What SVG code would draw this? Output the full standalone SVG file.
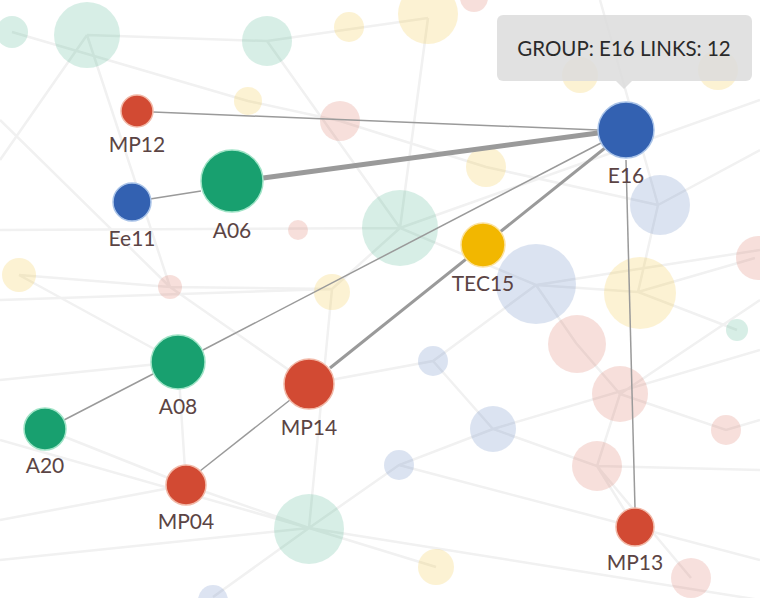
<svg xmlns="http://www.w3.org/2000/svg" width="760" height="598" viewBox="0 0 760 598">
<style>
.bgl{stroke:#f1f1f1;stroke-width:2.5;fill:none}
.bgn{opacity:0.17}
.g{fill:#18a06f}.b{fill:#3361b1}.r{fill:#d24a33}.y{fill:#f2b700}
.lk{stroke:#9a9a9a;fill:none}
.lbl{font-family:Lato,"Noto Sans",sans-serif;font-size:21px;fill:#5b4444;text-anchor:middle}
.nd{stroke-width:1.5}
</style>
<rect width="760" height="598" fill="#ffffff"/>
<g id="background-links">
<path class="bgl" d="M87 35L267 41L428 18M87 35L0 160M87 35L170 287M267 41L400 228M428 18L400 228L536 285L638 292L755 258M400 228L332 289L170 287L19 275M536 285L576 343L620 394L597 466L635 527M433 361L493 429L597 466L691 578M309 528L436 567M309 528L399 465L493 429M309 528L213 597M186 485L309 528L0 560M45 429L186 485M178 362L186 485M658 205L760 150M658 205L638 292L737 330M620 394L726 430L760 420M340 121L486 167L658 205M248 101L340 121M0 380L178 362M309 384L433 361L536 285M600 0L658 205M0 300L332 289M0 520L186 485M399 465L760 560M493 429L760 350M12 32L248 101M0 120L170 287M0 230L400 228M19 275L178 362M170 287L309 384M332 289L309 528M400 228L760 100M536 285L760 250M760 300L620 394M760 470L597 466M309 528L760 600M0 440L309 528"/>
</g>
<g id="background-nodes" class="bgn">
<circle cx="12" cy="32" r="16" class="g"/>
<circle cx="87" cy="35" r="33" class="g"/>
<circle cx="267" cy="41" r="25" class="g"/>
<circle cx="349" cy="27" r="15" class="y"/>
<circle cx="428" cy="14" r="30" class="y"/>
<circle cx="474" cy="-2" r="14" class="r"/>
<circle cx="580" cy="75" r="18" class="y"/>
<circle cx="718" cy="70" r="20" class="y"/>
<circle cx="248" cy="101" r="14" class="y"/>
<circle cx="340" cy="121" r="20" class="r"/>
<circle cx="298" cy="230" r="10" class="r"/>
<circle cx="400" cy="228" r="38" class="g"/>
<circle cx="332" cy="292" r="18" class="y"/>
<circle cx="170" cy="287" r="12" class="r"/>
<circle cx="19" cy="275" r="17" class="y"/>
<circle cx="486" cy="167" r="20" class="y"/>
<circle cx="536" cy="284" r="40" class="b"/>
<circle cx="660" cy="205" r="30" class="b"/>
<circle cx="758" cy="258" r="22" class="r"/>
<circle cx="640" cy="293" r="36" class="y"/>
<circle cx="577" cy="344" r="29" class="r"/>
<circle cx="737" cy="330" r="11" class="g"/>
<circle cx="433" cy="361" r="15" class="b"/>
<circle cx="620" cy="394" r="28" class="r"/>
<circle cx="493" cy="429" r="23" class="b"/>
<circle cx="726" cy="430" r="15" class="r"/>
<circle cx="399" cy="465" r="15" class="b"/>
<circle cx="597" cy="466" r="25" class="r"/>
<circle cx="309" cy="529" r="35" class="g"/>
<circle cx="436" cy="567" r="18" class="y"/>
<circle cx="691" cy="578" r="20" class="r"/>
<circle cx="213" cy="600" r="15" class="b"/>
</g>
<g id="connectors">
<line class="lk" x1="153" y1="112" x2="598" y2="130" stroke-width="1.5"/>
<line class="lk" x1="263" y1="178" x2="598" y2="133" stroke-width="5"/>
<line class="lk" x1="150" y1="199" x2="201" y2="191" stroke-width="1.5"/>
<line class="lk" x1="203" y1="350" x2="601" y2="143" stroke-width="1.5"/>
<line class="lk" x1="330" y1="368" x2="605" y2="148" stroke-width="3"/>
<line class="lk" x1="64" y1="420" x2="153" y2="374" stroke-width="1.5"/>
<line class="lk" x1="200" y1="471" x2="290" y2="400" stroke-width="1.5"/>
<line class="lk" x1="626" y1="160" x2="635" y2="508" stroke-width="1.5"/>
</g>
<g id="node-E16"><circle cx="626" cy="130" r="28" class="b nd" stroke="#a9c3e8"/><text class="lbl" x="626" y="183">E16</text></g>
<g id="node-MP12"><circle cx="137" cy="111" r="16" class="r nd" stroke="#f2b9a8"/><text class="lbl" x="137" y="152">MP12</text></g>
<g id="node-Ee11"><circle cx="132" cy="202" r="19" class="b nd" stroke="#a9c3e8"/><text class="lbl" x="132" y="246">Ee11</text></g>
<g id="node-A06"><circle cx="232" cy="181" r="31" class="g nd" stroke="#9fe3c6"/><text class="lbl" x="232" y="238">A06</text></g>
<g id="node-TEC15"><circle cx="483" cy="245" r="22" class="y nd" stroke="#fbe2a0"/><text class="lbl" x="483" y="291">TEC15</text></g>
<g id="node-A08"><circle cx="178" cy="362" r="27" class="g nd" stroke="#9fe3c6"/><text class="lbl" x="178" y="414">A08</text></g>
<g id="node-MP14"><circle cx="309" cy="384" r="25" class="r nd" stroke="#f2b9a8"/><text class="lbl" x="309" y="435">MP14</text></g>
<g id="node-A20"><circle cx="45" cy="429" r="21" class="g nd" stroke="#9fe3c6"/><text class="lbl" x="45" y="473">A20</text></g>
<g id="node-MP04"><circle cx="186" cy="485" r="20" class="r nd" stroke="#f2b9a8"/><text class="lbl" x="186" y="529">MP04</text></g>
<g id="node-MP13"><circle cx="635" cy="527" r="19" class="r nd" stroke="#f2b9a8"/><text class="lbl" x="635" y="570">MP13</text></g>
<g id="tooltip">
<rect x="497" y="15" width="255" height="66" rx="6" fill="#dcdcdc" fill-opacity="0.85"/>
<path d="M616 81L624 89L632 81Z" fill="#dcdcdc" fill-opacity="0.85"/>
<text x="624" y="56" font-family="Lato,'Noto Sans',sans-serif" font-size="20.5" fill="#2a2a2a" text-anchor="middle">GROUP: E16 LINKS: 12</text>
</g>
</svg>
